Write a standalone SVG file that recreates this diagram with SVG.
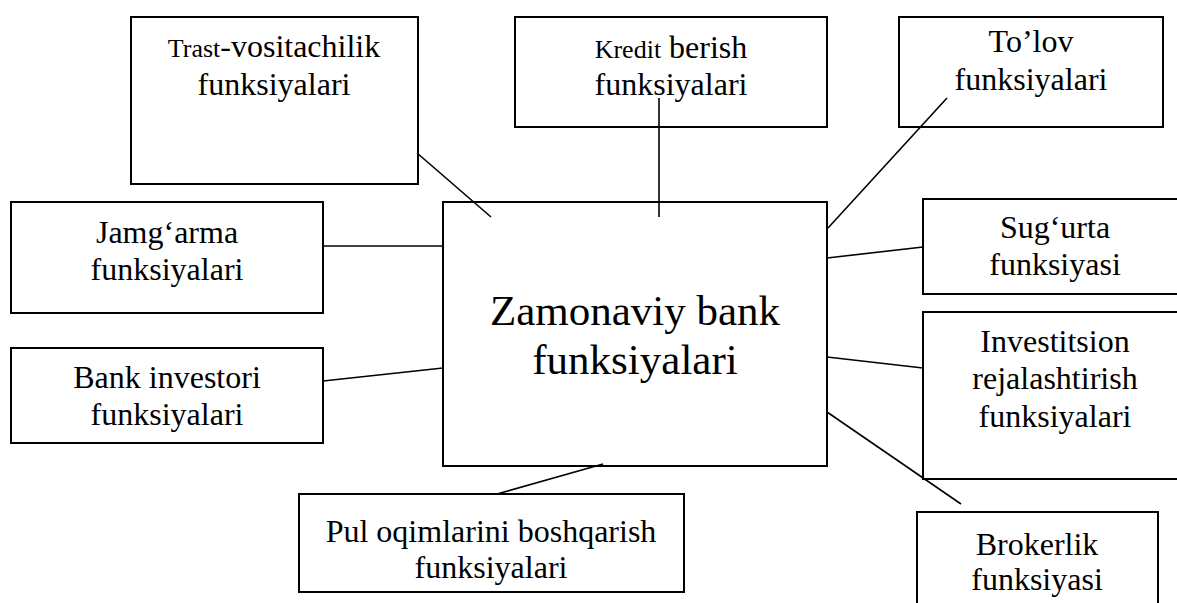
<svg xmlns="http://www.w3.org/2000/svg" width="1177" height="603" viewBox="0 0 1177 603">
<style>
.box{fill:#fff;stroke:#000;stroke-width:2}
.t{font-family:"Liberation Serif","Times New Roman",serif;font-size:32px;fill:#000;text-anchor:middle}
.s{font-size:26px}
.big{font-size:43px}
.c{stroke:#000;stroke-width:1.6;fill:none}
</style>
<rect width="1177" height="603" fill="#fff"/>
<g id="n-trast">
<rect class="box" x="131" y="17" width="287" height="167"/>
<text class="t" x="274" y="57"><tspan class="s">Trast</tspan>-vositachilik</text>
<text class="t" x="274" y="95">funksiyalari</text>
</g>
<g id="n-kredit">
<rect class="box" x="515" y="17" width="312" height="110"/>
<text class="t" x="671" y="58"><tspan class="s">Kredit</tspan> berish</text>
<text class="t" x="671" y="95">funksiyalari</text>
</g>
<g id="n-tolov">
<rect class="box" x="899" y="17" width="264" height="110"/>
<text class="t" x="1031" y="52">To’lov</text>
<text class="t" x="1031" y="90">funksiyalari</text>
</g>
<g id="n-jamgarma">
<rect class="box" x="11" y="202" width="312" height="111"/>
<text class="t" x="167" y="243">Jamg‘arma</text>
<text class="t" x="167" y="280">funksiyalari</text>
</g>
<g id="n-investor">
<rect class="box" x="11" y="348" width="312" height="95"/>
<text class="t" x="167" y="388">Bank investori</text>
<text class="t" x="167" y="425">funksiyalari</text>
</g>
<g id="n-center">
<rect class="box" x="443" y="202" width="384" height="264"/>
<text class="t big" x="635" y="325">Zamonaviy bank</text>
<text class="t big" x="635" y="374">funksiyalari</text>
</g>
<g id="n-sugurta">
<rect class="box" x="923" y="199" width="263" height="95"/>
<text class="t" x="1055" y="238">Sug‘urta</text>
<text class="t" x="1055" y="275">funksiyasi</text>
</g>
<g id="n-invest">
<rect class="box" x="923" y="312" width="263" height="167"/>
<text class="t" x="1055" y="352">Investitsion</text>
<text class="t" x="1055" y="389">rejalashtirish</text>
<text class="t" x="1055" y="427">funksiyalari</text>
</g>
<g id="n-broker">
<rect class="box" x="917" y="512" width="241" height="100"/>
<text class="t" x="1037" y="555">Brokerlik</text>
<text class="t" x="1037" y="590">funksiyasi</text>
</g>
<g id="n-pul">
<rect class="box" x="299" y="494" width="385" height="98"/>
<text class="t" x="491" y="542">Pul oqimlarini boshqarish</text>
<text class="t" x="491" y="578">funksiyalari</text>
</g>
<g id="connectors">
<line class="c" x1="417" y1="153" x2="491" y2="217"/>
<line class="c" x1="659" y1="98" x2="659" y2="217"/>
<line class="c" x1="947" y1="98" x2="828" y2="228"/>
<line class="c" x1="323" y1="246" x2="443" y2="246"/>
<line class="c" x1="323" y1="381" x2="443" y2="368"/>
<line class="c" x1="827" y1="258" x2="923" y2="247"/>
<line class="c" x1="827" y1="357" x2="923" y2="368"/>
<line class="c" x1="827" y1="412" x2="961" y2="504"/>
<line class="c" x1="497" y1="494" x2="603" y2="464"/>
</g>
</svg>
